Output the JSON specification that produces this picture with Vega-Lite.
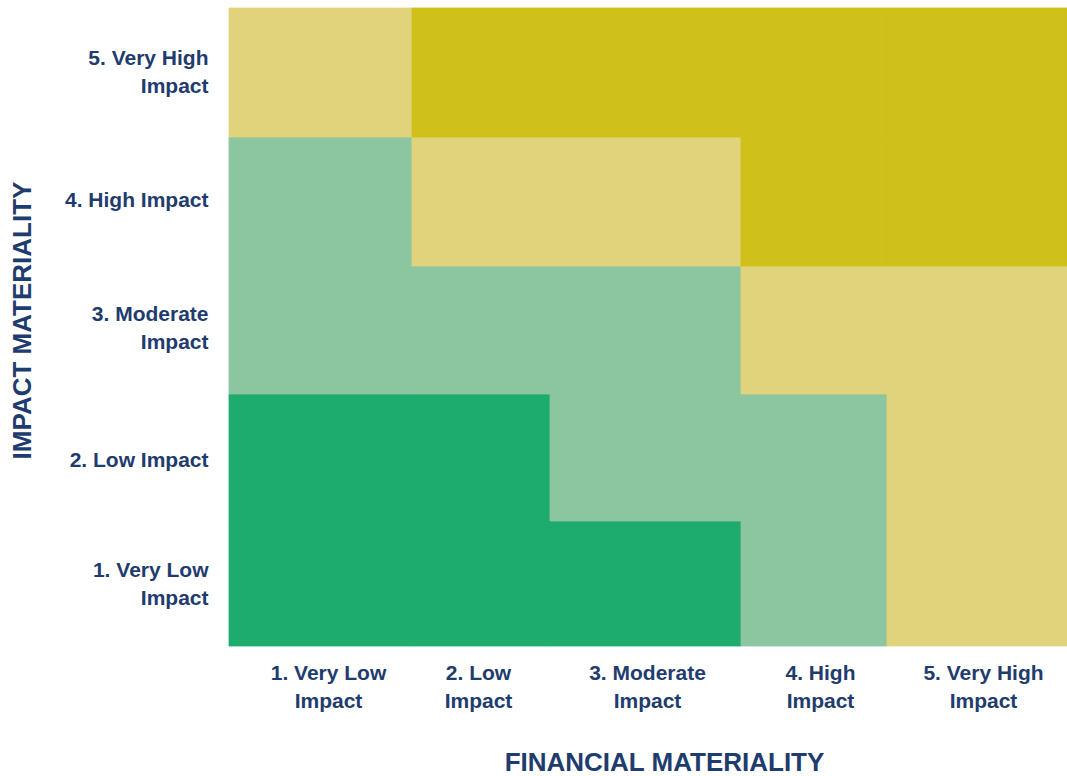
{
  "$schema": "https://vega.github.io/schema/vega-lite/v6.json",
  "autosize": "none",
  "width": 838,
  "height": 638,
  "padding": {"left": 229, "top": 8, "right": 0, "bottom": 130},
  "background": "white",
  "config": {"view": {"stroke": null}, "font": "Liberation Sans"},
  "data": {
    "values": [
      {"fin": 1, "imp": 1, "x0": 0, "x1": 183, "y0": 0, "y1": 125, "level": "Very Low"},
      {"fin": 2, "imp": 1, "x0": 183, "x1": 321, "y0": 0, "y1": 125, "level": "Very Low"},
      {"fin": 3, "imp": 1, "x0": 321, "x1": 512, "y0": 0, "y1": 125, "level": "Very Low"},
      {"fin": 4, "imp": 1, "x0": 512, "x1": 658, "y0": 0, "y1": 125, "level": "Low"},
      {"fin": 5, "imp": 1, "x0": 658, "x1": 838, "y0": 0, "y1": 125, "level": "Moderate"},
      {"fin": 1, "imp": 2, "x0": 0, "x1": 183, "y0": 125, "y1": 252, "level": "Very Low"},
      {"fin": 2, "imp": 2, "x0": 183, "x1": 321, "y0": 125, "y1": 252, "level": "Very Low"},
      {"fin": 3, "imp": 2, "x0": 321, "x1": 512, "y0": 125, "y1": 252, "level": "Low"},
      {"fin": 4, "imp": 2, "x0": 512, "x1": 658, "y0": 125, "y1": 252, "level": "Low"},
      {"fin": 5, "imp": 2, "x0": 658, "x1": 838, "y0": 125, "y1": 252, "level": "Moderate"},
      {"fin": 1, "imp": 3, "x0": 0, "x1": 183, "y0": 252, "y1": 380, "level": "Low"},
      {"fin": 2, "imp": 3, "x0": 183, "x1": 321, "y0": 252, "y1": 380, "level": "Low"},
      {"fin": 3, "imp": 3, "x0": 321, "x1": 512, "y0": 252, "y1": 380, "level": "Low"},
      {"fin": 4, "imp": 3, "x0": 512, "x1": 658, "y0": 252, "y1": 380, "level": "Moderate"},
      {"fin": 5, "imp": 3, "x0": 658, "x1": 838, "y0": 252, "y1": 380, "level": "Moderate"},
      {"fin": 1, "imp": 4, "x0": 0, "x1": 183, "y0": 380, "y1": 509, "level": "Low"},
      {"fin": 2, "imp": 4, "x0": 183, "x1": 321, "y0": 380, "y1": 509, "level": "Moderate"},
      {"fin": 3, "imp": 4, "x0": 321, "x1": 512, "y0": 380, "y1": 509, "level": "Moderate"},
      {"fin": 4, "imp": 4, "x0": 512, "x1": 658, "y0": 380, "y1": 509, "level": "High"},
      {"fin": 5, "imp": 4, "x0": 658, "x1": 838, "y0": 380, "y1": 509, "level": "High"},
      {"fin": 1, "imp": 5, "x0": 0, "x1": 183, "y0": 509, "y1": 638, "level": "Moderate"},
      {"fin": 2, "imp": 5, "x0": 183, "x1": 321, "y0": 509, "y1": 638, "level": "High"},
      {"fin": 3, "imp": 5, "x0": 321, "x1": 512, "y0": 509, "y1": 638, "level": "High"},
      {"fin": 4, "imp": 5, "x0": 512, "x1": 658, "y0": 509, "y1": 638, "level": "High"},
      {"fin": 5, "imp": 5, "x0": 658, "x1": 838, "y0": 509, "y1": 638, "level": "High"}
    ]
  },
  "mark": {"type": "rect", "strokeWidth": 0.8},
  "encoding": {
    "x": {
      "field": "x0", "type": "quantitative",
      "scale": {"domain": [0, 838], "nice": false, "zero": false},
      "axis": {
        "values": [99, 249, 418, 591, 754],
        "labelExpr": "datum.value < 150 ? ['1. Very Low', 'Impact'] : datum.value < 300 ? ['2. Low', 'Impact'] : datum.value < 500 ? ['3. Moderate', 'Impact'] : datum.value < 650 ? ['4. High', 'Impact'] : ['5. Very High', 'Impact']",
        "ticks": false, "domain": false, "grid": false,
        "labelFont": "Liberation Sans", "labelFontWeight": "bold", "labelFontSize": 21,
        "labelColor": "#1F3C6E", "labelPadding": 16, "labelLineHeight": 28,
        "labelAlign": "center", "labelBaseline": "top", "labelOverlap": false,
        "title": "FINANCIAL MATERIALITY",
        "titleFont": "Liberation Sans", "titleFontWeight": "bold", "titleFontSize": 26,
        "titleColor": "#1F3C6E", "titleX": 435, "titleY": 116,
        "titleAlign": "center", "titleBaseline": "middle"
      }
    },
    "x2": {"field": "x1"},
    "y": {
      "field": "y0", "type": "quantitative",
      "scale": {"domain": [0, 638], "nice": false, "zero": false},
      "axis": {
        "values": [62, 186, 318, 446, 574],
        "labelExpr": "datum.value < 100 ? ['1. Very Low', 'Impact'] : datum.value < 250 ? '2. Low Impact' : datum.value < 400 ? ['3. Moderate', 'Impact'] : datum.value < 500 ? '4. High Impact' : ['5. Very High', 'Impact']",
        "ticks": false, "domain": false, "grid": false,
        "labelFont": "Liberation Sans", "labelFontWeight": "bold", "labelFontSize": 21,
        "labelColor": "#1F3C6E", "labelPadding": 21, "labelLineHeight": 28,
        "labelOffset": {"condition": {"test": "datum.value == 186 || datum.value == 446", "value": 0}, "value": -14},
        "labelAlign": "right", "labelBaseline": "middle", "labelOverlap": false,
        "title": "IMPACT MATERIALITY",
        "titleFont": "Liberation Sans", "titleFontWeight": "bold", "titleFontSize": 26,
        "titleColor": "#1F3C6E", "titleX": -207, "titleY": 312, "titleAngle": -90,
        "titleAlign": "center", "titleBaseline": "middle"
      }
    },
    "y2": {"field": "y1"},
    "color": {
      "field": "level", "type": "nominal", "legend": null,
      "scale": {"domain": ["Very Low", "Low", "Moderate", "High"], "range": ["#1EAB6E", "#8BC6A1", "#E0D37C", "#CFC01A"]}
    },
    "stroke": {
      "field": "level", "type": "nominal", "legend": null,
      "scale": {"domain": ["Very Low", "Low", "Moderate", "High"], "range": ["#1EAB6E", "#8BC6A1", "#E0D37C", "#CFC01A"]}
    }
  }
}
